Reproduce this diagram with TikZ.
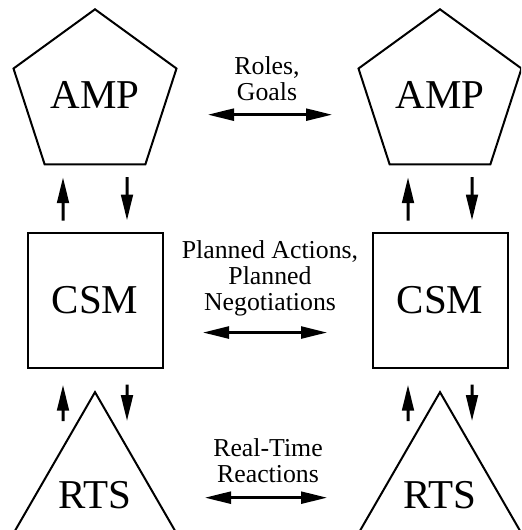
\documentclass[tikz,border=0pt]{standalone}
\usepackage{fontspec}
\setmainfont{Liberation Serif}
\usetikzlibrary{shapes.geometric,arrows.meta}

\begin{document}
\begin{tikzpicture}[x=0.5pt,y=-0.5pt,
    layer/.style={draw,line width=1pt,inner sep=0pt,outer sep=0pt,font=\fontsize{20.5}{24}\selectfont},
    pent/.style={layer,regular polygon,regular polygon sides=5,minimum size=85.7pt},
    tri/.style={layer,regular polygon,regular polygon sides=3,minimum size=97pt},
    csmbox/.style={layer,rectangle,minimum size=67.5pt},
    lbl/.style={align=center,inner sep=0pt,font=\fontsize{12.9}{13}\selectfont},
    vec/.style={-{Triangle[length=13pt,width=5.8pt]},line width=1.5pt},
    dbl/.style={{Triangle[length=13pt,width=6pt]}-{Triangle[length=13pt,width=6pt]},line width=1.2pt}]
    \useasboundingbox (0,0) rectangle (521,530);
    \clip (0,0) rectangle (521,530);
    \node[pent] (amp1) at (95,95) {AMP};
    \node[pent] (amp2) at (440,95) {AMP};
    \node[csmbox] (csm1) at (95,300) {CSM};
    \node[csmbox] (csm2) at (440,300) {CSM};
    \node[tri] (rts1) at (95,495) {RTS};
    \node[tri] (rts2) at (440,495) {RTS};
    \node[lbl] (roles) at (267,79) {Roles,\\Goals};
    \node[lbl] (plans) at (270,278) {Planned Actions,\\Planned\\Negotiations};
    \node[lbl] (react) at (268,461) {Real-Time\\Reactions};
    \foreach \i in {1,2} {
        \draw[vec] ([xshift=-16pt,yshift=6pt]csm\i.north) -- ([xshift=-16pt,yshift=-6.4pt]amp\i.south);
        \draw[vec] ([xshift=16pt,yshift=-6.4pt]amp\i.south) -- ([xshift=16pt,yshift=6pt]csm\i.north);
        \draw[vec] ([xshift=-16pt,yshift=-14.5pt]rts\i.north) -- ([xshift=-16pt,yshift=-8.6pt]csm\i.south);
        \draw[vec] ([xshift=16pt,yshift=-8.6pt]csm\i.south) -- ([xshift=16pt,yshift=-14.5pt]rts\i.north);
    }
    \draw[dbl] ([xshift=-29.5pt,yshift=-6.6pt]roles.south) -- ([xshift=32.5pt,yshift=-6.6pt]roles.south);
    \draw[dbl] ([xshift=-33.5pt,yshift=-8.2pt]plans.south) -- ([xshift=28.5pt,yshift=-8.2pt]plans.south);
    \draw[dbl] ([xshift=-31.5pt,yshift=-7.1pt]react.south) -- ([xshift=29.5pt,yshift=-7.1pt]react.south);
\end{tikzpicture}
\end{document}
